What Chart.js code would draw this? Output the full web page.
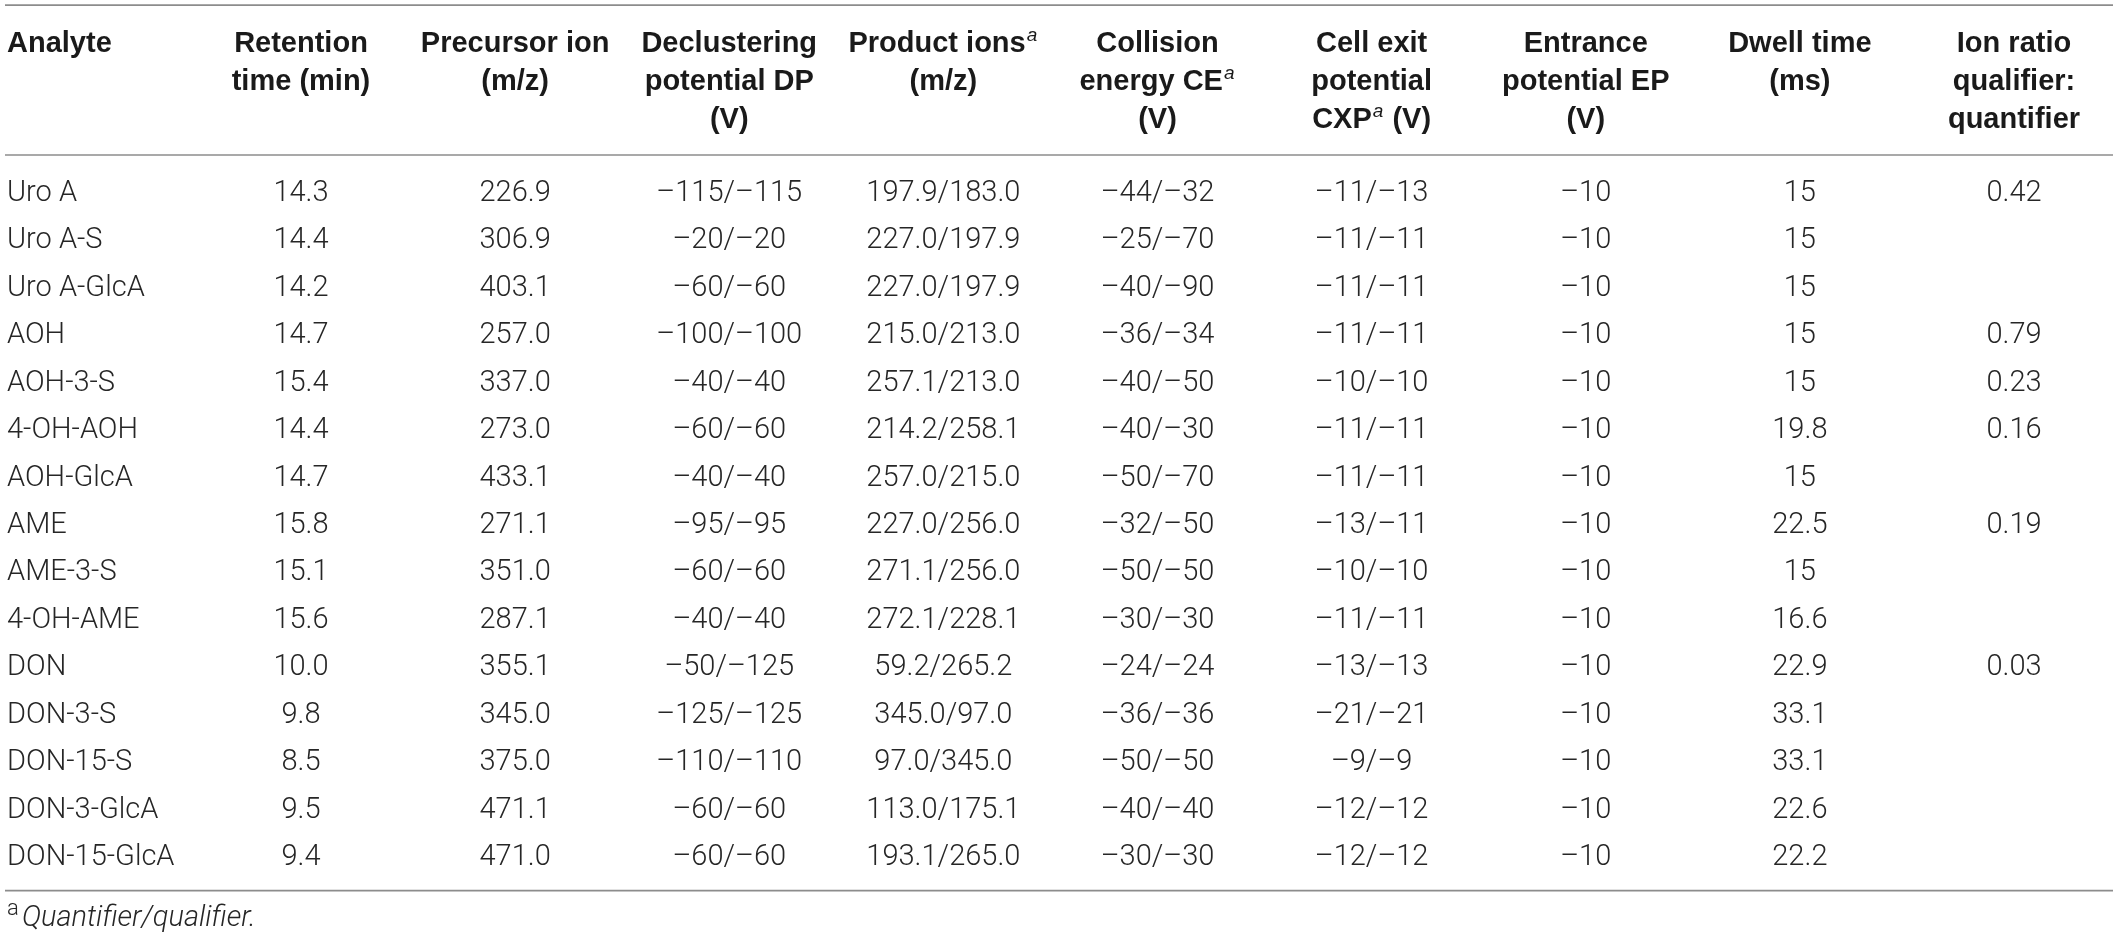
<!DOCTYPE html>
<html>
<head>
<meta charset="utf-8">
<script src="https://cdn.jsdelivr.net/npm/chart.js@4.4.1/dist/chart.umd.min.js"></script>
<style>
  html, body { margin: 0; padding: 0; background: #fff; }
  #wrap { width: 2118px; height: 939px; }
</style>
</head>
<body>
<div id="wrap"><canvas id="ionTable" width="2118" height="939"></canvas></div>
<script>
// table content, one array per column
const analytes = ["Uro A", "Uro A-S", "Uro A-GlcA", "AOH", "AOH-3-S", "4-OH-AOH", "AOH-GlcA", "AME",
  "AME-3-S", "4-OH-AME", "DON", "DON-3-S", "DON-15-S", "DON-3-GlcA", "DON-15-GlcA"];
const retentionTime = [14.3, 14.4, 14.2, 14.7, 15.4, 14.4, 14.7, 15.8, 15.1, 15.6, 10.0, 9.8, 8.5, 9.5, 9.4];
const precursorIon = [226.9, 306.9, 403.1, 257.0, 337.0, 273.0, 433.1, 271.1, 351.0, 287.1, 355.1, 345.0, 375.0, 471.1, 471.0];
const dpQuant = [-115, -20, -60, -100, -40, -60, -40, -95, -60, -40, -50, -125, -110, -60, -60];
const dpQual = [-115, -20, -60, -100, -40, -60, -40, -95, -60, -40, -125, -125, -110, -60, -60];
const productQuant = [197.9, 227.0, 227.0, 215.0, 257.1, 214.2, 257.0, 227.0, 271.1, 272.1, 59.2, 345.0, 97.0, 113.0, 193.1];
const productQual = [183.0, 197.9, 197.9, 213.0, 213.0, 258.1, 215.0, 256.0, 256.0, 228.1, 265.2, 97.0, 345.0, 175.1, 265.0];
const ceQuant = [-44, -25, -40, -36, -40, -40, -50, -32, -50, -30, -24, -36, -50, -40, -30];
const ceQual = [-32, -70, -90, -34, -50, -30, -70, -50, -50, -30, -24, -36, -50, -40, -30];
const cxpQuant = [-11, -11, -11, -11, -10, -11, -11, -13, -10, -11, -13, -21, -9, -12, -12];
const cxpQual = [-13, -11, -11, -11, -10, -11, -11, -11, -10, -11, -13, -21, -9, -12, -12];
const entrancePotential = [-10, -10, -10, -10, -10, -10, -10, -10, -10, -10, -10, -10, -10, -10, -10];
const dwellTime = [15, 15, 15, 15, 15, 19.8, 15, 22.5, 15, 16.6, 22.9, 33.1, 33.1, 22.6, 22.2];
const ionRatio = [0.42, null, null, 0.79, 0.23, 0.16, null, 0.19, null, null, 0.03, null, null, null, null];

// header lines, "^a" marks the footnote superscript
const headers = [
  ["Analyte"],
  ["Retention", "time (min)"],
  ["Precursor ion", "(m/z)"],
  ["Declustering", "potential DP", "(V)"],
  ["Product ions^a", "(m/z)"],
  ["Collision", "energy CE^a", "(V)"],
  ["Cell exit", "potential", "CXP^a (V)"],
  ["Entrance", "potential EP", "(V)"],
  ["Dwell time", "(ms)"],
  ["Ion ratio", "qualifier:", "quantifier"]
];
const footnote = "Quantifier/qualifier.";

const neg = (v) => (v < 0 ? "\u2013" + Math.abs(v) : String(v));
const pair = (a, b, f) => a.map((v, i) => f(v) + "/" + f(b[i]));
const one = (v) => v.toFixed(1);

const columnText = [
  analytes,
  retentionTime.map(one),
  precursorIon.map(one),
  pair(dpQuant, dpQual, neg),
  pair(productQuant, productQual, one),
  pair(ceQuant, ceQual, neg),
  pair(cxpQuant, cxpQual, neg),
  entrancePotential.map(neg),
  dwellTime.map(String),
  ionRatio.map((v) => (v == null ? "" : v.toFixed(2)))
];

const BODY_FONT = "300 29px Roboto";
const HEAD_FONT = "bold 29px 'Liberation Sans', Arial, sans-serif";
const SUP_FONT = "italic 19px 'Liberation Sans', Arial, sans-serif";
const RULE_TOP = -3.92, RULE_HEAD = -0.76, RULE_BOTTOM = 14.75, FOOT_ROW = 15.3;
const HEAD_ROW = -2.93, HEAD_LINE = 38;

function drawLine(ctx, line, cx, by, align) {
  const parts = line.split("^a");
  ctx.font = HEAD_FONT;
  const w0 = ctx.measureText(parts[0]).width;
  let w1 = 0, w2 = 0;
  if (parts.length > 1) {
    ctx.font = SUP_FONT;
    w1 = ctx.measureText("a").width + 2;
    ctx.font = HEAD_FONT;
    w2 = ctx.measureText(parts[1]).width;
  }
  const x = align === "left" ? cx : cx - (w0 + w1 + w2) / 2;
  ctx.textAlign = "left";
  ctx.font = HEAD_FONT;
  ctx.fillText(parts[0], x, by);
  if (parts.length > 1) {
    ctx.font = SUP_FONT;
    ctx.fillText("a", x + w0 + 1, by - 11);
    ctx.font = HEAD_FONT;
    ctx.fillText(parts[1], x + w0 + w1, by);
  }
}

const tablePlugin = {
  id: "tableText",
  afterDatasetsDraw(chart) {
    const ctx = chart.ctx;
    const xs = chart.scales.x, ys = chart.scales.y;
    const left = chart.chartArea.left + 7;
    ctx.save();

    // rules
    ctx.strokeStyle = "#8c8c8c";
    ctx.lineWidth = 1.6;
    [RULE_TOP, RULE_HEAD, RULE_BOTTOM].forEach((v) => {
      const py = ys.getPixelForValue(v);
      ctx.beginPath();
      ctx.moveTo(chart.chartArea.left + 5, py);
      ctx.lineTo(chart.chartArea.right - 5, py);
      ctx.stroke();
    });

    // header
    ctx.fillStyle = "#1a1a1a";
    ctx.textBaseline = "alphabetic";
    headers.forEach((lines, c) => {
      const cx = c === 0 ? left : xs.getPixelForValue(c);
      lines.forEach((line, k) => {
        const by = ys.getPixelForValue(HEAD_ROW) + k * HEAD_LINE;
        drawLine(ctx, line, cx, by, c === 0 ? "left" : "center");
      });
    });

    // cells, placed at each point of the dataset
    ctx.font = BODY_FONT;
    ctx.fillStyle = "#262626";
    chart.data.datasets.forEach((ds, c) => {
      const meta = chart.getDatasetMeta(c);
      ctx.textAlign = c === 0 ? "left" : "center";
      meta.data.forEach((pt, r) => {
        const txt = ds.cellText[r];
        if (!txt) return;
        ctx.fillText(txt, c === 0 ? left : pt.x, pt.y + 10);
      });
    });

    // footnote
    const fy = ys.getPixelForValue(FOOT_ROW) + 9;
    ctx.textAlign = "left";
    ctx.font = "300 22px Roboto";
    ctx.fillText("a", left, fy - 11);
    ctx.font = "italic 300 29px Roboto";
    ctx.fillText(footnote, left + 15, fy);
    ctx.restore();
  }
};

new Chart(document.getElementById("ionTable"), {
  type: "scatter",
  data: {
    datasets: columnText.map((texts, c) => ({
      label: headers[c].join(" "),
      data: texts.map((t, r) => ({ x: c, y: r })),
      cellText: texts,
      pointRadius: 0,
      pointHoverRadius: 0
    }))
  },
  options: {
    responsive: false,
    animation: false,
    events: [],
    layout: { padding: 0 },
    plugins: { legend: { display: false }, tooltip: { enabled: false } },
    scales: {
      x: { type: "linear", min: -0.4057, max: 9.4857, display: false },
      y: { type: "linear", min: -4.027, max: 15.77, reverse: true, display: false }
    }
  },
  plugins: [tablePlugin]
});
</script>
</body>
</html>
